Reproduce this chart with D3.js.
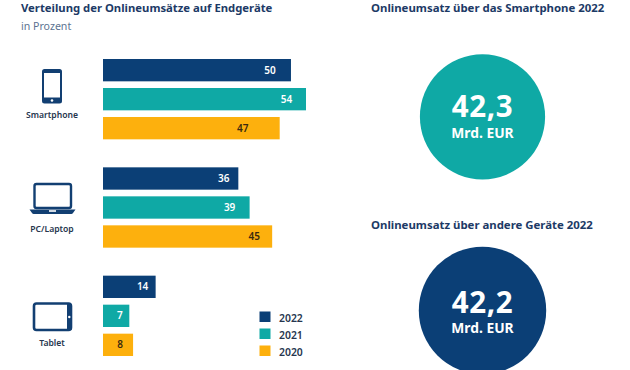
<!DOCTYPE html>
<html lang="de"><head><meta charset="utf-8">
<script src="https://cdn.jsdelivr.net/npm/d3@7"></script>
<style>
html,body{margin:0;padding:0;background:#fff}
svg{display:block}
text{font-family:"Noto Sans","Open Sans",sans-serif}
</style></head><body>
<svg id="chart" width="630" height="370"></svg>
<script>
const devices = ["Smartphone","PC/Laptop","Tablet"];
const years = ["2022","2021","2020"];
const values2022 = [50,36,14];
const values2021 = [54,39,7];
const values2020 = [47,45,8];
const yearColors = ["#0b3f76","#0fa9a5","#fdb00d"];
const labelColors = ["#fff","#fff","#3a2a10"];
const totals = ["42,3","42,2"];
const totalUnit = "Mrd. EUR";
const totalTitles = ["Onlineumsatz über das Smartphone 2022","Onlineumsatz über andere Geräte 2022"];
const series = [values2022,values2021,values2020];

const navy="#1c3a66";
const svg=d3.select("#chart");
const x=d3.scaleLinear().domain([0,54]).range([103,306]);
const yGroup=d3.scaleBand().domain(devices).range([59,356]).paddingInner(0.2585).paddingOuter(0).align(0);
const yBar=d3.scaleBand().domain(years).range([0,yGroup.bandwidth()]).paddingInner(0.23).paddingOuter(0);

// label inset from bar end, per year row then device (as set in the original)
const insets=[[21,14.5,13],[19.5,20,9.5],[37,18,13]];

svg.append("text").attr("x",21).attr("y",12).attr("font-size",11.3).attr("font-weight",700).attr("fill",navy)
  .text("Verteilung der Onlineumsätze auf Endgeräte");
svg.append("text").attr("x",21).attr("y",30).attr("font-size",10.6).attr("fill","#5c7391").text("in Prozent");

years.forEach((yr,i)=>{
  const g=svg.append("g");
  g.selectAll("rect").data(series[i]).join("rect")
    .attr("x",x(0)).attr("y",(d,j)=>yGroup(devices[j])+yBar(yr))
    .attr("width",d=>x(d)-x(0)).attr("height",yBar.bandwidth()).attr("fill",yearColors[i]);
  g.selectAll("text").data(series[i]).join("text")
    .attr("x",(d,j)=>x(d)-insets[i][j]).attr("y",(d,j)=>yGroup(devices[j])+yBar(yr)+yBar.bandwidth()/2+3.6)
    .attr("text-anchor","middle").attr("font-size",10).attr("font-weight",600).attr("fill",labelColors[i])
    .text(d=>d);
});

// device labels
const devLabelY=[118,232,346];
svg.selectAll("text.dev").data(devices).join("text").attr("class","dev")
  .attr("x",52).attr("y",(d,i)=>devLabelY[i]).attr("text-anchor","middle")
  .attr("font-size",8.6).attr("font-weight",600).attr("fill","#26364e").text(d=>d);

// icons
const ic="#123f72";
const phone=svg.append("g");
phone.append("rect").attr("x",42).attr("y",69).attr("width",20).attr("height",34.5).attr("rx",2.5).attr("fill",ic);
phone.append("rect").attr("x",44).attr("y",73).attr("width",16).attr("height",24.5).attr("fill","#fff");
phone.append("circle").attr("cx",52).attr("cy",100.5).attr("r",1.3).attr("fill","#fff");
const lap=svg.append("g");
lap.append("rect").attr("x",34.5).attr("y",184).attr("width",36.5).attr("height",24).attr("rx",2).attr("fill","#fff").attr("stroke",ic).attr("stroke-width",2.4);
lap.append("path").attr("d","M29.5 209.5H75.5L73 213a2 2 0 0 1-2 1H34a2 2 0 0 1-2-1Z").attr("fill",ic);
lap.append("rect").attr("x",49).attr("y",210.2).attr("width",7).attr("height",1.6).attr("fill","#fff");
const tab=svg.append("g");
tab.append("rect").attr("x",34).attr("y",303.5).attr("width",37).attr("height",26.5).attr("rx",2.5).attr("fill","#fff").attr("stroke",ic).attr("stroke-width",2.6);
tab.append("rect").attr("x",67).attr("y",304).attr("width",4.5).attr("height",26).attr("fill",ic);
tab.append("circle").attr("cx",69.3).attr("cy",317).attr("r",1.2).attr("fill","#fff");

// legend
const legY=d3.scalePoint().domain(years).range([311.5,345.5]);
const leg=svg.append("g");
leg.selectAll("rect").data(years).join("rect").attr("x",259.5).attr("y",d=>legY(d))
  .attr("width",11).attr("height",10.5).attr("fill",(d,i)=>yearColors[i]);
leg.selectAll("text").data(years).join("text").attr("x",279).attr("y",d=>legY(d)+10.2)
  .attr("font-size",10.4).attr("font-weight",600).attr("fill","#26364e").text(d=>d);

// totals
const circleColors=[yearColors[1],yearColors[0]];
const cy=[116.8,310.4], rr=[62.6,63.7], numY=[0.5,2.3], unitY=[21.5,22.3];
totals.forEach((t,i)=>{
  svg.append("text").attr("x",371).attr("y",i?229:12).attr("font-size",11.4).attr("font-weight",700).attr("fill",navy).text(totalTitles[i]);
  svg.append("circle").attr("cx",482.5).attr("cy",cy[i]).attr("r",rr[i]).attr("fill",circleColors[i]);
  svg.append("text").attr("x",482.5).attr("y",cy[i]+numY[i]).attr("text-anchor","middle").attr("font-size",29.5).attr("letter-spacing",0.6).attr("font-weight",700).attr("fill","#fff").text(t);
  svg.append("text").attr("x",482.5).attr("y",cy[i]+unitY[i]).attr("text-anchor","middle").attr("font-size",13.8).attr("font-weight",700).attr("fill","#fff").text(totalUnit);
});
</script></body></html>
